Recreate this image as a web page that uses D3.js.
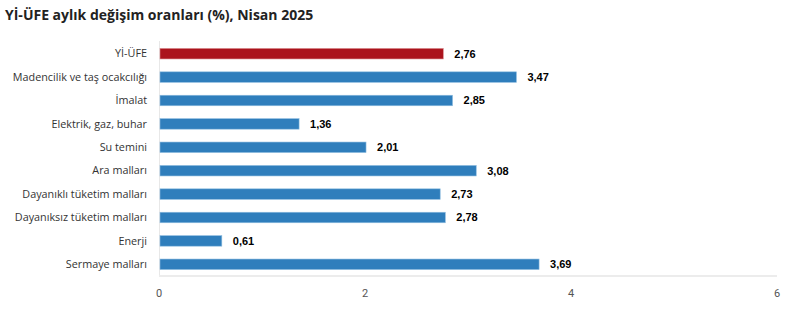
<!DOCTYPE html>
<html>
<head>
<meta charset="utf-8">
<script src="https://cdn.jsdelivr.net/npm/d3@7"></script>
<style>
  body { margin: 0; background: #fff; }
</style>
</head>
<body>
<div id="chart"></div>
<script>
const categories = [
  'Yİ-ÜFE',
  'Madencilik ve taş ocakcılığı',
  'İmalat',
  'Elektrik, gaz, buhar',
  'Su temini',
  'Ara malları',
  'Dayanıklı tüketim malları',
  'Dayanıksız tüketim malları',
  'Enerji',
  'Sermaye malları'
];
const values = [2.76, 3.47, 2.85, 1.36, 2.01, 3.08, 2.73, 2.78, 0.61, 3.69];
const xTicks = [0, 2, 4, 6];

const options = { width: 804, height: 321 };
const margin = { top: 42, right: 27, bottom: 45, left: 159 };

const svg = d3.select('#chart')
  .append('svg')
  .attr('width', options.width)
  .attr('height', options.height);

svg.append('text')
  .text('Yİ-ÜFE aylık değişim oranları (%), Nisan 2025')
  .attr('x', 5)
  .attr('y', 20)
  .attr('font-family', '"Open Sans", "Noto Sans", sans-serif')
  .attr('font-weight', 'bold')
  .attr('font-size', '14px')
  .attr('fill', '#222');

const x = d3.scaleLinear()
  .domain([0, 6])
  .range([margin.left, options.width - margin.right]);

const y = d3.scaleBand()
  .domain(categories)
  .range([margin.top, options.height - margin.bottom])
  .paddingInner(0.55)
  .paddingOuter(0.275);

// left axis line
svg.append('line')
  .attr('x1', margin.left + 0.5).attr('x2', margin.left + 0.5)
  .attr('y1', margin.top - 1).attr('y2', options.height - margin.bottom)
  .attr('stroke', '#e8e8e8');

// bottom baseline
svg.append('line')
  .attr('x1', margin.left).attr('x2', options.width - margin.right)
  .attr('y1', options.height - margin.bottom)
  .attr('y2', options.height - margin.bottom)
  .attr('stroke', '#ececec')
  .attr('stroke-width', 2);

// category labels
svg.append('g')
  .selectAll('text')
  .data(categories)
  .enter()
  .append('text')
  .attr('x', margin.left - 12)
  .attr('y', d => y(d) + y.bandwidth() / 2)
  .attr('dy', '0.35em')
  .attr('text-anchor', 'end')
  .attr('font-family', '"Open Sans", "Noto Sans", sans-serif')
  .attr('font-size', '10.8px')
  .attr('fill', '#333')
  .text(d => d);

// bars
svg.append('g')
  .selectAll('rect')
  .data(values)
  .enter()
  .append('rect')
  .attr('x', x(0) + 1)
  .attr('y', (d, i) => y(categories[i]))
  .attr('width', d => x(d) - x(0) - 1)
  .attr('height', y.bandwidth())
  .attr('fill', (d, i) => i === 0 ? '#ab131c' : '#2f7ebc')
  .attr('stroke', (d, i) => i === 0 ? '#d98a8e' : '#8fbde0')
  .attr('stroke-width', 0.6);

// value labels
svg.append('g')
  .selectAll('text')
  .data(values)
  .enter()
  .append('text')
  .attr('x', d => x(d) + 11)
  .attr('y', (d, i) => y(categories[i]) + y.bandwidth() / 2)
  .attr('dy', '0.35em')
  .attr('font-family', '"Liberation Sans", Arial, sans-serif')
  .attr('font-weight', 'bold')
  .attr('font-size', '11px')
  .attr('fill', '#000')
  .text(d => d.toFixed(2).replace('.', ','));

// x tick labels
svg.append('g')
  .selectAll('text')
  .data(xTicks)
  .enter()
  .append('text')
  .attr('x', d => x(d))
  .attr('y', 297)
  .attr('text-anchor', 'middle')
  .attr('font-family', 'Roboto, sans-serif')
  .attr('font-size', '11px')
  .attr('fill', '#555')
  .text(d => d);
</script>
</body>
</html>
